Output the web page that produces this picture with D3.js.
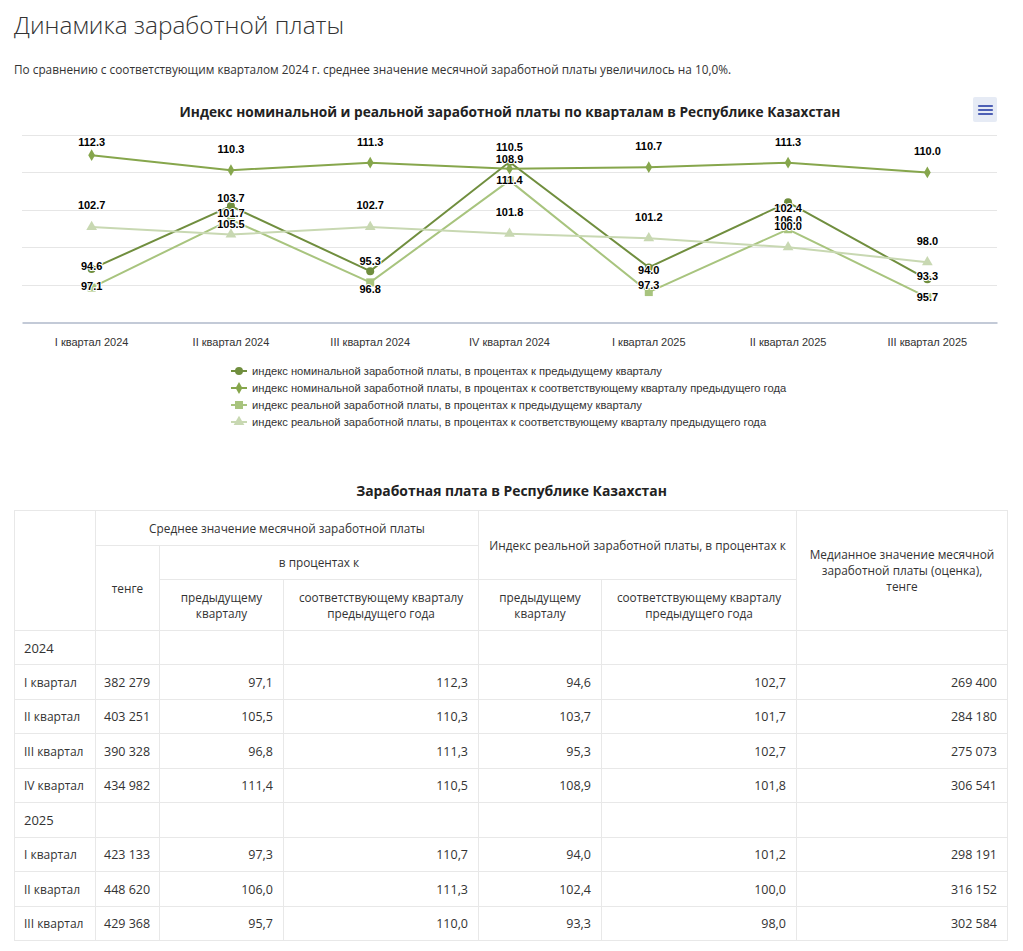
<!DOCTYPE html>
<html lang="ru">
<head>
<meta charset="utf-8">
<title>Динамика заработной платы</title>
<script src="https://cdn.jsdelivr.net/npm/d3@7"></script>
<style>
  body { margin: 0; background: #fff; font-family: "Open Sans", "Noto Sans", sans-serif; color: #333; }
  #page { position: relative; width: 1023px; height: 951px; overflow: hidden; }
  h1 { position: absolute; left: 14px; top: 8px; margin: 0; font-size: 24.4px; font-weight: 300; color: #333; }
  .lead { position: absolute; left: 14px; top: 61px; margin: 0; font-size: 11.8px; color: #333; }
  #chart { position: absolute; left: 0; top: 90px; }
  .table-title { position: absolute; left: 0; width: 1023px; top: 481px; text-align: center;
                 font-size: 13.9px; font-weight: 700; color: #222; margin: 0; }
  table { position: absolute; left: 14px; top: 510px; border-collapse: collapse; table-layout: fixed;
          width: 993px; font-size: 12.5px; }
  td, th { border: 1px solid #e8e8e8; padding: 0 10px; white-space: nowrap; }
  th { font-weight: 400; text-align: center; vertical-align: middle; line-height: 16px; font-size: 11.8px; padding: 0 2px; }
  tbody tr { height: 34.5px; }
  td.lbl { text-align: left; padding-left: 9px; padding-right: 0; }
  td.tg { text-align: left; padding-left: 8px; padding-right: 0; }
  td.num { text-align: right; }
</style>
</head>
<body>
<div id="page">
  <h1>Динамика заработной платы</h1>
  <p class="lead">По сравнению с соответствующим кварталом 2024 г. среднее значение месячной заработной платы увеличилось на 10,0%.</p>
  <div id="chart"></div>
  <p class="table-title">Заработная плата в Республике Казахстан</p>
  <table id="wages"></table>
</div>
<script>
// ---------- data ----------
const quarters = ['I квартал 2024', 'II квартал 2024', 'III квартал 2024', 'IV квартал 2024',
                  'I квартал 2025', 'II квартал 2025', 'III квартал 2025'];
const years = ['2024', '2025'];
const quarterNames = ['I квартал', 'II квартал', 'III квартал', 'IV квартал'];
const quarterYear = [0, 0, 0, 0, 1, 1, 1];

const wageTenge   = [382279, 403251, 390328, 434982, 423133, 448620, 429368];
const nominalPrev = [97.1, 105.5, 96.8, 111.4, 97.3, 106.0, 95.7];
const nominalYoY  = [112.3, 110.3, 111.3, 110.5, 110.7, 111.3, 110.0];
const realPrev    = [94.6, 103.7, 95.3, 108.9, 94.0, 102.4, 93.3];
const realYoY     = [102.7, 101.7, 102.7, 101.8, 101.2, 100.0, 98.0];
const medianTenge = [269400, 284180, 275073, 306541, 298191, 316152, 302584];

const seriesNames = [
  'индекс номинальной заработной платы, в процентах к предыдущему кварталу',
  'индекс номинальной заработной платы, в процентах к соответствующему кварталу предыдущего года',
  'индекс реальной заработной платы, в процентах к предыдущему кварталу',
  'индекс реальной заработной платы, в процентах к соответствующему кварталу предыдущего года'
];
const yTicks = [90, 95, 100, 105, 110, 115];

// ---------- chart ----------
const W = 1023, H = 350;
const plot = { left: 22, right: 997, top: 45, bottom: 232 };

const series = [
  { name: seriesNames[0], values: nominalPrev, color: '#708e3e', symbol: d3.symbolCircle,   size: 50, labelBelow: true },
  { name: seriesNames[1], values: nominalYoY,  color: '#86a64c', symbol: d3.symbolDiamond,  size: 40, labelBelow: false },
  { name: seriesNames[2], values: realPrev,    color: '#a8c47e', symbol: d3.symbolSquare,   size: 64, labelBelow: false },
  { name: seriesNames[3], values: realYoY,     color: '#c8d8b2', symbol: d3.symbolTriangle, size: 50, labelBelow: false }
];

const x = d3.scaleBand().domain(quarters).range([plot.left, plot.right]);
const y = d3.scaleLinear().domain([90, 115]).range([plot.bottom, plot.top]);
const cx = q => x(q) + x.bandwidth() / 2;

const svg = d3.select('#chart').append('svg')
  .attr('width', W).attr('height', H)
  .style('font-family', '"Liberation Sans", Arial, sans-serif');

svg.append('text')
  .attr('x', 510).attr('y', 27)
  .attr('text-anchor', 'middle')
  .style('font-family', '"Open Sans", "Noto Sans", sans-serif')
  .style('font-size', '13.7px').style('font-weight', 700).attr('fill', '#222')
  .text('Индекс номинальной и реальной заработной платы по кварталам в Республике Казахстан');

// export menu button
const btn = svg.append('g').attr('transform', 'translate(973,7)');
btn.append('rect').attr('width', 24).attr('height', 25).attr('rx', 2).attr('fill', '#e6ebf5');
[9, 13, 17].forEach(v => btn.append('line')
  .attr('x1', 6).attr('x2', 19).attr('y1', v).attr('y2', v)
  .attr('stroke', '#4d5fb5').attr('stroke-width', 2.2).attr('stroke-linecap', 'round'));

// grid
svg.append('g').selectAll('line')
  .data(yTicks.slice(1))
  .join('line')
  .attr('x1', plot.left).attr('x2', plot.right)
  .attr('y1', d => Math.round(y(d)) + 0.5).attr('y2', d => Math.round(y(d)) + 0.5)
  .attr('stroke', '#e6e6e6');

// x axis
const xAxis = svg.append('g')
  .attr('transform', `translate(0,${Math.round(y(90)) + 0.5})`)
  .call(d3.axisBottom(x).tickSize(0).tickPadding(16));
xAxis.select('.domain').attr('stroke', '#8796b0').attr('stroke-width', 1.2);
xAxis.selectAll('text').style('font-size', '11px').attr('fill', '#333')
  .style('font-family', '"Liberation Sans", Arial, sans-serif');

// lines and markers
const line = d3.line().x((d, i) => cx(quarters[i])).y(d => y(d));

series.forEach(s => {
  const g = svg.append('g');
  g.append('path').datum(s.values)
    .attr('d', line).attr('fill', 'none')
    .attr('stroke', s.color).attr('stroke-width', 2);
  g.selectAll('path.m').data(s.values).join('path')
    .attr('class', 'm')
    .attr('d', d3.symbol(s.symbol, s.size))
    .attr('transform', (d, i) => `translate(${cx(quarters[i])},${y(d)})`)
    .attr('fill', s.color);
});

// data labels
const fmt1 = d3.format('.1f');
series.forEach(s => {
  svg.append('g').selectAll('text').data(s.values).join('text')
    .attr('x', (d, i) => cx(quarters[i]))
    .attr('y', d => {
      const c = s.labelBelow ? y(d) + 17.6 : Math.max(y(d) - 21.6, plot.top + 6.7);
      return c + 4;
    })
    .attr('text-anchor', 'middle')
    .style('font-size', '11px').style('font-weight', 700)
    .attr('fill', '#000')
    .attr('stroke', '#fff').attr('stroke-width', 2).attr('stroke-linejoin', 'round')
    .style('paint-order', 'stroke')
    .text(d => fmt1(d));
});

// legend
const legend = svg.append('g').attr('transform', 'translate(231,281)');
series.forEach((s, i) => {
  const row = legend.append('g').attr('transform', `translate(0,${i * 17})`);
  row.append('line').attr('x1', 0).attr('x2', 16)
    .attr('stroke', s.color).attr('stroke-width', 2);
  row.append('path').attr('d', d3.symbol(s.symbol, s.size)).attr('transform', 'translate(8,0)')
    .attr('fill', s.color);
  row.append('text').attr('x', 21).attr('y', 4)
    .style('font-size', '11.2px').attr('fill', '#333')
    .text(s.name);
});

// ---------- table ----------
const fmtInt = v => d3.format(',')(v).replace(/,/g, ' ');
const fmtDec = v => d3.format('.1f')(v).replace('.', ',');

const table = d3.select('#wages');
const colWidths = [81, 64, 124, 195, 123, 195, 211];
table.append('colgroup').selectAll('col').data(colWidths).join('col').style('width', d => d + 'px');

const thead = table.append('thead');
const headRows = [
  [
    { t: '', rs: 3 },
    { t: 'Среднее значение месячной заработной платы', cs: 3 },
    { t: 'Индекс реальной заработной платы, в процентах к', cs: 2, rs: 2 },
    { t: 'Медианное значение месячной<br>заработной платы (оценка),<br>тенге', rs: 3 }
  ],
  [
    { t: 'тенге', rs: 2 },
    { t: 'в процентах к', cs: 2 }
  ],
  [
    { t: 'предыдущему<br>кварталу' },
    { t: 'соответствующему кварталу<br>предыдущего года' },
    { t: 'предыдущему<br>кварталу' },
    { t: 'соответствующему кварталу<br>предыдущего года' }
  ]
];
const headHeights = [34.6, 34, 51.4];
headRows.forEach((cells, r) => {
  const tr = thead.append('tr').style('height', headHeights[r] + 'px');
  cells.forEach(c => {
    tr.append('th')
      .attr('colspan', c.cs || 1).attr('rowspan', c.rs || 1)
      .html(c.t);
  });
});

const tbody = table.append('tbody');
years.forEach((yr, yi) => {
  const yrRow = tbody.append('tr');
  yrRow.append('td').attr('class', 'lbl').style('font-size', '13px').text(yr);
  for (let k = 0; k < 6; k++) yrRow.append('td');
  quarterYear.forEach((qy, i) => {
    if (qy !== yi) return;
    const qi = yi === 0 ? i : i - 4;
    const tr = tbody.append('tr');
    tr.append('td').attr('class', 'lbl').style('font-size', '12px').text(quarterNames[qi]);
    tr.append('td').attr('class', 'tg').text(fmtInt(wageTenge[i]));
    tr.append('td').attr('class', 'num').text(fmtDec(nominalPrev[i]));
    tr.append('td').attr('class', 'num').text(fmtDec(nominalYoY[i]));
    tr.append('td').attr('class', 'num').text(fmtDec(realPrev[i]));
    tr.append('td').attr('class', 'num').text(fmtDec(realYoY[i]));
    tr.append('td').attr('class', 'num').text(fmtInt(medianTenge[i]));
  });
});
</script>
</body>
</html>
